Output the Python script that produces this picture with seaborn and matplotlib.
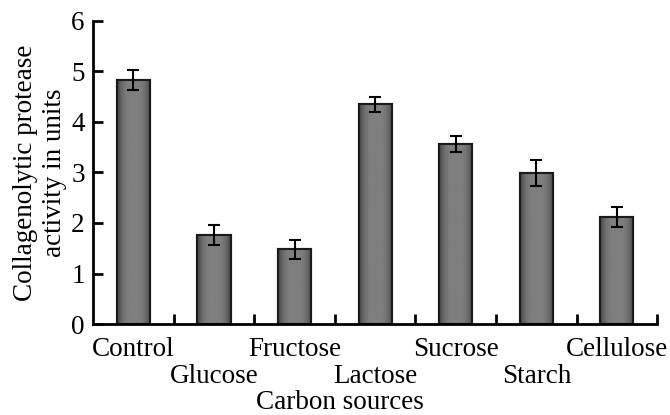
import numpy as np
import pandas as pd
import matplotlib
matplotlib.use("Agg")
import matplotlib.pyplot as plt
import seaborn as sns
from matplotlib.ticker import FixedLocator

categories = ["Control", "Glucose", "Fructose", "Lactose", "Sucrose", "Starch", "Cellulose"]
activity = [4.83, 1.77, 1.48, 4.35, 3.57, 2.99, 2.12]
errors = [0.20, 0.20, 0.19, 0.15, 0.16, 0.25, 0.20]
y_ticks = [0, 1, 2, 3, 4, 5, 6]

sns.set_style("ticks")
plt.rcParams['font.family'] = ['Liberation Serif', 'DejaVu Serif']
plt.rcParams['text.color'] = 'black'
plt.rcParams['axes.labelcolor'] = 'black'
plt.rcParams['xtick.color'] = 'black'
plt.rcParams['ytick.color'] = 'black'

FS = 19.5

df = pd.DataFrame({"source": categories, "activity": activity})

fig = plt.figure(figsize=(6.7, 4.15), dpi=100)
ax = fig.add_axes([0.139, 0.219, 0.842, 0.731])

sns.barplot(data=df, x="source", y="activity", color="#7f7f7f", width=0.41,
            edgecolor="#1a1a1a", linewidth=1.5, saturation=1, ax=ax)

# gradient shading inside bars
grad = np.linspace(-1, 1, 64)
shade = 0.50 - 0.24 * np.abs(grad) ** 3
img = np.tile(shade, (2, 1))
for p in list(ax.patches):
    x0, y0 = p.get_x(), p.get_y()
    w, h = p.get_width(), p.get_height()
    im = ax.imshow(img, cmap="gray", vmin=0, vmax=1, aspect="auto",
                   extent=(x0, x0 + w, y0, y0 + h), zorder=p.get_zorder() + 0.1,
                   interpolation="bilinear")
    im.set_clip_path(p)
    edge = plt.Rectangle((x0, y0), w, h, fill=False, edgecolor="#1a1a1a",
                         linewidth=1.5, zorder=p.get_zorder() + 0.2)
    ax.add_patch(edge)

ax.errorbar(range(len(categories)), activity, yerr=errors, fmt="none",
            ecolor="black", elinewidth=1.5, capsize=4, capthick=1.5, zorder=5)

ax.set_xlim(-0.5, len(categories) - 0.5)
ax.set_ylim(0, 6)
ax.set_yticks(y_ticks)
ax.set_yticklabels([str(t) for t in y_ticks])

# first row of labels (even categories)
even_idx = list(range(0, len(categories), 2))
odd_idx = list(range(1, len(categories), 2))
ax.set_xticks(even_idx)
ax.set_xticklabels([categories[i] for i in even_idx])
ax.xaxis.set_minor_locator(FixedLocator([i + 0.5 for i in range(len(categories))]))
ax.tick_params(axis="x", which="major", length=0, labelsize=FS, pad=9)
ax.tick_params(axis="x", which="minor", direction="in", length=7, width=2)
ax.tick_params(axis="y", direction="in", length=7, width=2, labelsize=FS, pad=6)

# second row of labels (odd categories)
sec = ax.secondary_xaxis("bottom")
sec.set_xticks(odd_idx)
sec.set_xticklabels([categories[i] for i in odd_idx])
sec.tick_params(axis="x", length=0, labelsize=FS, pad=28.5)
sec.spines["bottom"].set_visible(False)

ax.set_xlabel("Carbon sources", fontsize=FS, labelpad=20.5, x=0.438)
ax.set_ylabel("Collagenolytic protease\nactivity in units", fontsize=FS,
              linespacing=1.22, labelpad=3)

for s in ["top", "right"]:
    ax.spines[s].set_visible(False)
for s in ["left", "bottom"]:
    ax.spines[s].set_linewidth(2)
    ax.spines[s].set_color("black")

fig.savefig("out.png", dpi=100)
